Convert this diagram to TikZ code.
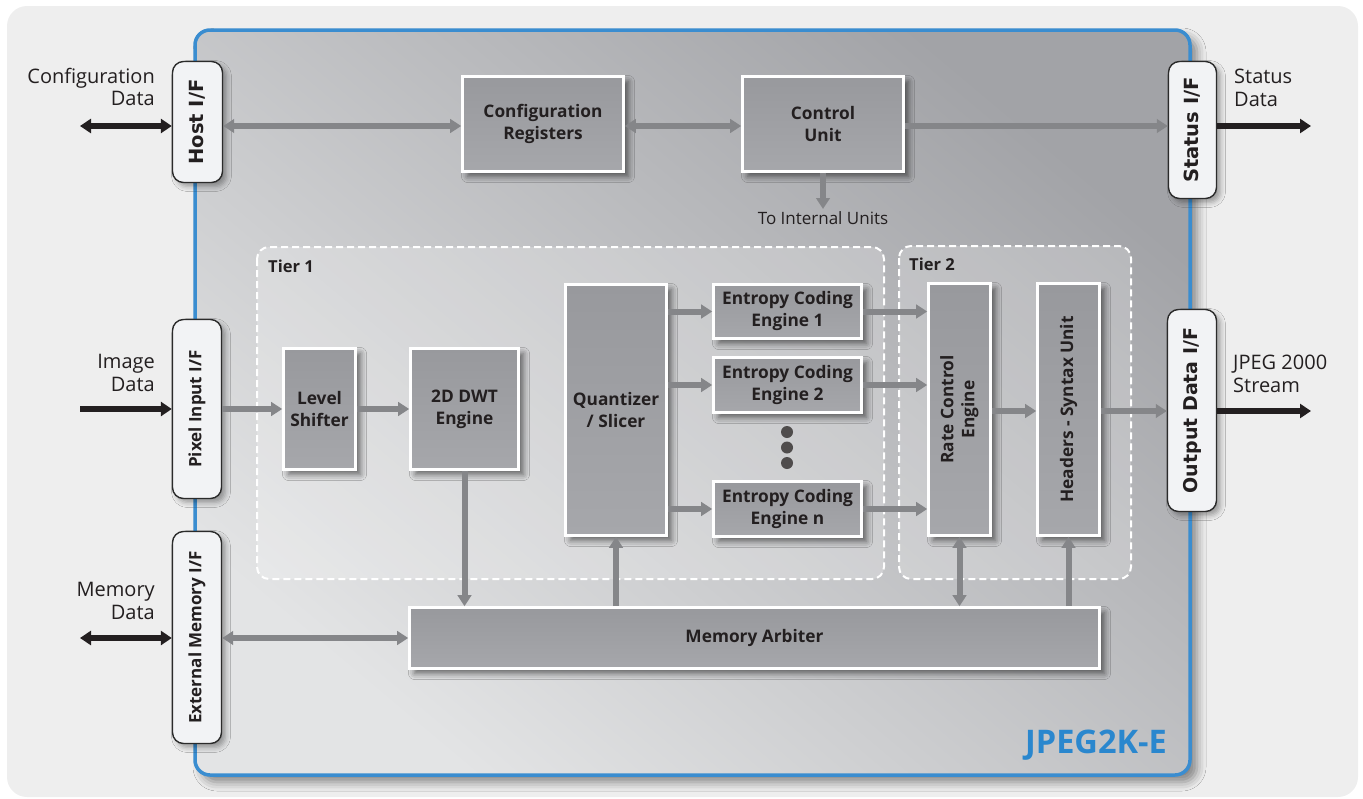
\documentclass[tikz,border=0pt]{standalone}
\usepackage{fontspec}
\setmainfont{Open Sans}
\newfontfamily\vfont{DejaVu Sans}
\usetikzlibrary{arrows.meta,shadows.blur}
\definecolor{bgc}{HTML}{EEEEEE}
\definecolor{bluec}{HTML}{3A8DD0}
\definecolor{bluetxt}{HTML}{2A87CE}
\definecolor{innerdark}{HTML}{A2A3A7}
\definecolor{innerlight}{HTML}{E3E4E5}
\definecolor{boxtop}{HTML}{98999D}
\definecolor{boxbot}{HTML}{A6A7AB}
\definecolor{iffill}{HTML}{F2F3F5}
\definecolor{ifline}{HTML}{2B2B2B}
\definecolor{arrg}{HTML}{858689}
\definecolor{arrb}{HTML}{231F20}
\definecolor{txt}{HTML}{231F20}
\begin{document}
\begin{tikzpicture}[x=1pt,y=-1pt,
  blk/.style={draw=white, line width=2.6pt, top color=boxtop, bottom color=boxbot,
    inner sep=0pt, align=center, text=txt,
    font=\fontsize{17.3}{22}\selectfont\bfseries,
    blur shadow={shadow xshift=5pt, shadow yshift=-5pt, shadow blur radius=6pt, shadow opacity=55}},
  ifbox/.style={draw=ifline, line width=1.4pt, fill=iffill, rounded corners=11pt,
    inner sep=0pt, text=txt,
    blur shadow={shadow xshift=4pt, shadow yshift=-4pt, shadow blur radius=5pt, shadow opacity=35}},
  outlab/.style={font=\fontsize{20}{22.5}\selectfont, text=txt, inner sep=0pt},
  tierlab/.style={anchor=base west, inner sep=0pt, font=\fontsize{16.5}{18}\selectfont\bfseries, text=txt},
  tierbox/.style={draw=white, line width=2pt, dash pattern=on 7pt off 4pt,
    rounded corners=12pt, fill=white, fill opacity=0.22},
  garrow/.style={draw=arrg, line width=6pt, -{Triangle[length=11pt,width=13.5pt]}},
  gboth/.style={draw=arrg, line width=6pt, {Triangle[length=11pt,width=13.5pt]}-{Triangle[length=11pt,width=13.5pt]}},
  barrow/.style={draw=arrb, line width=6.2pt, -{Triangle[length=11pt,width=14pt]}},
  bboth/.style={draw=arrb, line width=6.2pt, {Triangle[length=11pt,width=14pt]}-{Triangle[length=11pt,width=14pt]}},
]
\useasboundingbox (0,0) rectangle (1363,798);
% backgrounds
\fill[bgc, rounded corners=20pt] (7,6) rectangle (1358,797);
\path[draw=bluec, line width=3.5pt, rounded corners=15pt,
  top color=innerdark, bottom color=innerlight, shading angle=-40,
  blur shadow={shadow xshift=7pt, shadow yshift=-7pt, shadow blur radius=9pt, shadow opacity=45}]
  (195,30) rectangle (1190,775);

% tier boxes
\draw[tierbox] (257,247) rectangle (884,579);
\draw[tierbox] (899,246) rectangle (1131,579);
\node[tierlab] (tier1) at (268,272) {Tier 1};
\node[tierlab] (tier2) at (909,270) {Tier 2};

% interface boxes
\node[ifbox, minimum width=50pt, minimum height=121pt] (host) at (197.5,122) {\rotatebox{90}{\vfont\bfseries\fontsize{19.5}{22}\selectfont Host I/F}};
\node[ifbox, minimum width=48pt, minimum height=137pt] (status) at (1192.5,130) {\rotatebox{90}{\vfont\bfseries\fontsize{19.5}{22}\selectfont Status I/F}};
\node[ifbox, minimum width=49pt, minimum height=179pt] (pix) at (197,409) {\rotatebox{90}{\fontsize{17}{22}\selectfont\bfseries Pixel Input I/F}};
\node[ifbox, minimum width=49pt, minimum height=212pt] (ext) at (197,637.5) {\rotatebox{90}{\fontsize{17}{22}\selectfont\bfseries External Memory I/F}};
\node[ifbox, minimum width=49pt, minimum height=202pt] (out) at (1192,410.5) {\rotatebox{90}{\vfont\bfseries\fontsize{19}{22}\selectfont Output Data I/F}};

% blocks
\node[blk, minimum width=161pt, minimum height=95pt] (cfg) at (543,124) {Configuration\\Registers};
\node[blk, minimum width=161pt, minimum height=95pt] (ctrl) at (823,124) {Control\\Unit};
\node[blk, minimum width=72pt, minimum height=121pt] (lvl) at (319.5,409) {Level\\Shifter};
\node[blk, minimum width=108pt, minimum height=121pt] (dwt) at (464.5,409) {2D DWT\\Engine};
\node[blk, minimum width=101pt, minimum height=251pt] (quant) at (616,410) {Quantizer\\/ Slicer};
\node[blk, minimum width=148pt, minimum height=54pt] (ec1) at (787.5,311.5) {Entropy Coding\\Engine 1};
\node[blk, minimum width=148pt, minimum height=55pt] (ec2) at (787.5,385) {Entropy Coding\\Engine 2};
\node[blk, minimum width=148pt, minimum height=55pt] (ecn) at (787.5,509) {Entropy Coding\\Engine n};
\node[blk, minimum width=62pt, minimum height=252pt] (rate) at (959.5,409.5) {\rotatebox{90}{\begin{tabular}{@{}c@{}}Rate Control\\[-1pt]Engine\end{tabular}}};
\node[blk, minimum width=62pt, minimum height=252pt] (hdr) at (1068.5,409.5) {\rotatebox{90}{Headers - Syntax Unit}};
\node[blk, minimum width=690pt, minimum height=61pt] (mem) at (754.5,638) {Memory Arbiter};

% dots
\fill[arrb!80] (787,432) circle (6pt) coordinate (d1);
\fill[arrb!80] (787,447.5) circle (6pt) coordinate (d2);
\fill[arrb!80] (787,463) circle (6pt) coordinate (d3);

% outside labels
\node[outlab, align=right, anchor=east] (lcfg) at (155,87) {Configuration\\Data};
\node[outlab, align=right, anchor=east] (limg) at (155,373) {Image\\Data};
\node[outlab, align=right, anchor=east] (lmem) at (155,601) {Memory\\Data};
\node[outlab, align=left, anchor=west] (lsta) at (1234,88) {Status\\Data};
\node[outlab, align=left, anchor=west] (ljpg) at (1233,374) {JPEG 2000\\Stream};
\node[font=\fontsize{32.5}{36}\selectfont\bfseries, text=bluetxt, anchor=base east, inner sep=0pt] (brand) at (1167,753) {JPEG2K-E};

% external coordinates
\coordinate (cdE) at (80,126);
\coordinate (imE) at (80,409);
\coordinate (mdE) at (80,638);
\coordinate (sdE) at (1311,126);
\coordinate (jsE) at (1311,411);
\coordinate (intU) at (823,209);
\node[outlab, font=\fontsize{17}{20}\selectfont, anchor=north] (tiu) at (823,211) {To Internal Units};

% black arrows
\draw[bboth] (cdE) -- (cdE -| host.west);
\draw[barrow] (imE) -- (imE -| pix.west);
\draw[bboth] (mdE) -- (mdE -| ext.west);
\draw[barrow] (sdE -| status.east) -- (sdE);
\draw[barrow] (jsE -| out.east) -- (jsE);

% gray arrows
\draw[gboth] (host.east |- cdE) -- (cfg.west |- cdE);
\draw[gboth] (cfg.east |- cdE) -- (ctrl.west |- cdE);
\draw[garrow] (ctrl.east |- cdE) -- (status.west |- cdE);
\draw[garrow] (ctrl.south) -- (intU);
\draw[garrow] (pix.east |- imE) -- (lvl.west |- imE);
\draw[garrow] (lvl.east |- imE) -- (dwt.west |- imE);
\draw[garrow] (dwt.south) -- (dwt.south |- mem.north);
\draw[garrow] (quant.south |- mem.north) -- (quant.south);
\draw[garrow] (quant.east |- ec1.west) -- (ec1.west);
\draw[garrow] (quant.east |- ec2.west) -- (ec2.west);
\draw[garrow] (quant.east |- ecn.west) -- (ecn.west);
\draw[garrow] (ec1.east) -- (ec1.east -| rate.west);
\draw[garrow] (ec2.east) -- (ec2.east -| rate.west);
\draw[garrow] (ecn.east) -- (ecn.east -| rate.west);
\draw[gboth] (rate.south |- mem.north) -- (rate.south);
\draw[garrow] (hdr.south |- mem.north) -- (hdr.south);
\draw[garrow] (rate.east |- jsE) -- (hdr.west |- jsE);
\draw[garrow] (hdr.east |- jsE) -- (out.west |- jsE);
\draw[gboth] (ext.east |- mdE) -- (mem.west |- mdE);
\end{tikzpicture}
\end{document}
